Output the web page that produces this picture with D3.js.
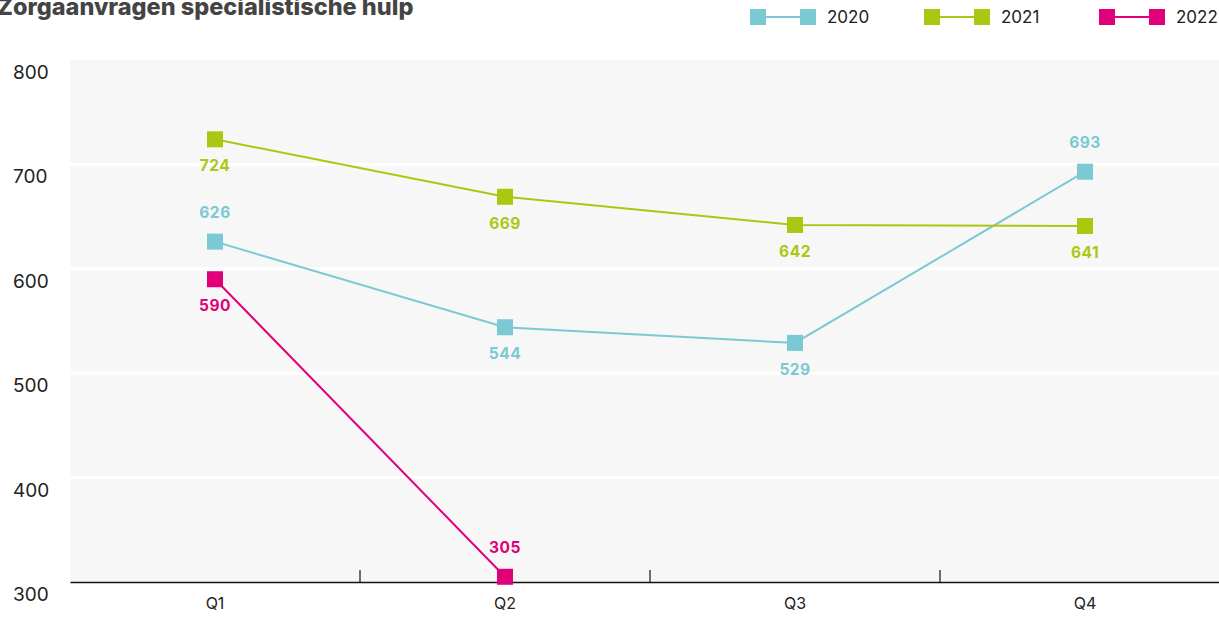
<!DOCTYPE html>
<html><head><meta charset="utf-8">
<script src="https://cdn.jsdelivr.net/npm/d3@7"></script>
<style>body{margin:0;background:#fff;overflow:hidden}svg{display:block}</style>
</head><body><svg id="c" width="1219" height="617"></svg>
<script>
const categories = ["Q1","Q2","Q3","Q4"];
const seriesNames = ["2020","2021","2022"];
const values2020 = [626,544,529,693];
const values2021 = [724,669,642,641];
const values2022 = [590,305];
const labelPos2020 = ["above","below","below","above"];
const labelPos2021 = ["below","below","below","below"];
const labelPos2022 = ["below","above"];
const yTicks = [300,400,500,600,700,800];
const colors = ["#7bc9d3","#abc712","#e1007a"];
const title = "Zorgaanvragen specialistische hulp";

const svg = d3.select("#c");
const font = "Inter, 'Noto Sans', sans-serif";
const x = d3.scaleBand().domain(categories).range([70,1230]).padding(0);
const y = d3.scaleLinear().domain([300,800]).range([582,60]);

svg.append("rect").attr("x",70).attr("y",y(800)).attr("width",1160).attr("height",y(300)-y(800)).attr("fill","#f7f7f7");
// gridlines
svg.append("g").selectAll("line").data(yTicks.filter(d=>d>300&&d<800)).join("line")
  .attr("x1",70).attr("x2",1230).attr("y1",d=>y(d)).attr("y2",d=>y(d))
  .attr("stroke","#fff").attr("stroke-width",3);
// y labels
svg.append("g").selectAll("text").data(yTicks).join("text")
  .attr("x",13).attr("y",d=>y(d)+19).text(d=>d)
  .attr("font-family",font).attr("font-size",19).attr("fill","#222");
// x axis
const xAxis = d3.axisBottom(x).tickSize(0).tickPadding(16);
const gx = svg.append("g").attr("transform","translate(0,582)").call(xAxis);
gx.select(".domain").attr("stroke","#111").attr("stroke-width",1.5);
gx.selectAll("text").attr("font-family",font).attr("font-size",16).attr("fill","#222");
svg.append("g").selectAll("line").data(categories.slice(1)).join("line")
  .attr("x1",d=>x(d)).attr("x2",d=>x(d)).attr("y1",570).attr("y2",582)
  .attr("stroke","#111").attr("stroke-width",1.2);

const series = [values2020, values2021, values2022];
const labelPos = [labelPos2020, labelPos2021, labelPos2022];
const cx = (i)=>x(categories[i])+x.bandwidth()/2;
const line = d3.line().x((d,i)=>cx(i)).y(d=>y(d));
series.forEach((vals,s)=>{
  const g = svg.append("g");
  g.append("path").datum(vals).attr("d",line).attr("fill","none").attr("stroke",colors[s]).attr("stroke-width",2);
  g.selectAll("rect").data(vals).join("rect")
    .attr("x",(d,i)=>cx(i)-8).attr("y",d=>y(d)-8).attr("width",16).attr("height",16).attr("fill",colors[s]);
  g.selectAll("text").data(vals).join("text")
    .attr("x",(d,i)=>cx(i)).attr("y",(d,i)=>labelPos[s][i]==="above"? y(d)-24 : y(d)+32)
    .attr("text-anchor","middle").text(d=>d)
    .attr("font-family",font).attr("font-weight",700).attr("font-size",15.5).attr("letter-spacing",0.5).attr("fill",colors[s]);
});

// title
svg.append("text").attr("x",-3).attr("y",15).text(title)
  .attr("font-family",font).attr("font-weight",800).attr("font-size",23.5).attr("fill","#444");

// legend
const legX = [750,924,1099];
seriesNames.forEach((n,s)=>{
  const g = svg.append("g").attr("transform",`translate(${legX[s]},0)`);
  g.append("line").attr("x1",8).attr("x2",58).attr("y1",17).attr("y2",17).attr("stroke",colors[s]).attr("stroke-width",2);
  g.append("rect").attr("x",0).attr("y",9).attr("width",16).attr("height",16).attr("fill",colors[s]);
  g.append("rect").attr("x",50).attr("y",9).attr("width",16).attr("height",16).attr("fill",colors[s]);
  g.append("text").attr("x",77).attr("y",23).text(n).attr("font-family",font).attr("font-size",17).attr("fill","#222");
});
</script></body></html>
